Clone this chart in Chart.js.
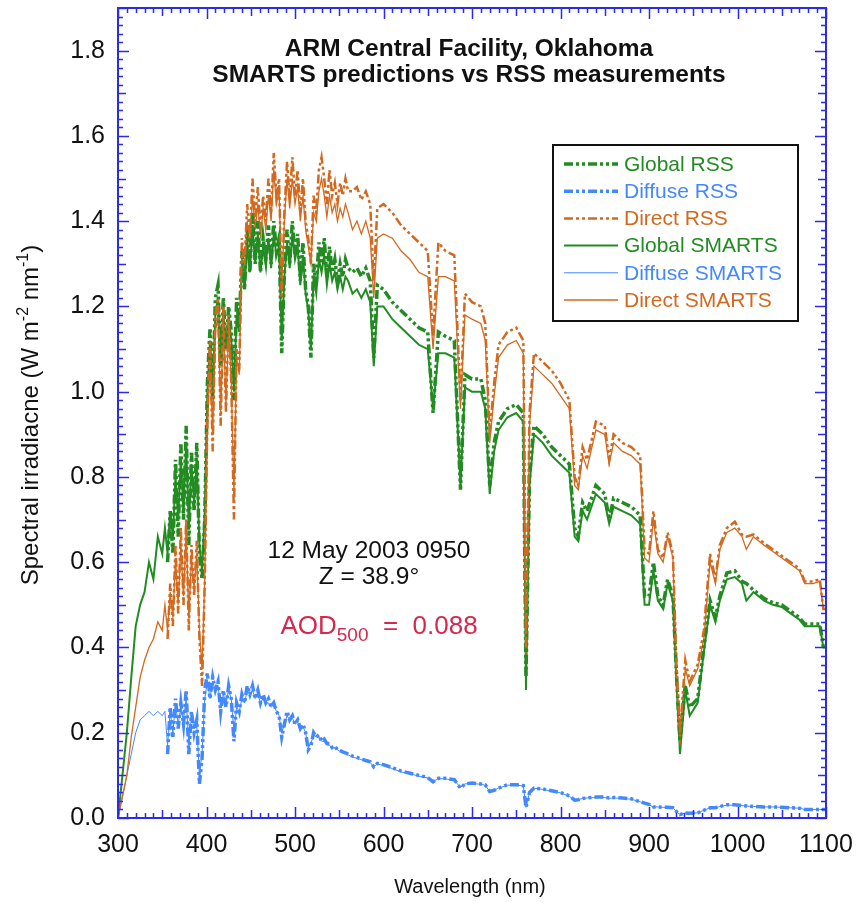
<!DOCTYPE html>
<html>
<head>
<meta charset="UTF-8">
<title>SMARTS predictions vs RSS measurements</title>
<script src="https://cdn.jsdelivr.net/npm/chart.js"></script>
<style>
  html, body { margin: 0; padding: 0; background: #fff; }
</style>
</head>
<body>
<canvas id="spectra" width="858" height="909"></canvas>
<script>
// wavelength grid (nm), shared by all six curves
var wavelength = [
  300,305,310,315,320,325,330,335,340,345,350,
  353,356,359,362,365,368,371,374,377,380,
  383,386,389,392,395,398,401,404,407,410,
  413,416,419,422,425,428,431,434,437,440,
  443,446,449,452,455,458,461,464,467,470,
  473,476,479,482,485,488,491,494,497,500,
  503,506,509,512,515,518,521,524,527,530,
  533,536,539,542,545,548,551,554,557,560,
  565,570,575,580,585,589,593,600,
  610,620,630,640,650,656,662,670,680,687,692,700,
  710,715,720,725,730,740,750,758,761,765,770,780,790,800,
  810,816,820,825,830,840,850,855,860,870,880,890,
  895,900,905,910,916,921,927,931,935,941,946,955,962,969,975,980,988,997,
  1005,1010,1018,1030,1040,1050,1060,1070,1076,1085,1093,1097,1100
];

// RSS measurements start near 356 nm
var globalRSS = [
  null,null,null,null,null,null,null,null,null,null,null,
  null,0.60,0.72,0.62,0.84,0.66,0.88,0.70,0.92,0.64,
  0.86,0.72,0.88,0.62,0.56,0.70,1.02,1.15,0.98,1.22,
  1.25,1.06,1.22,1.10,1.20,1.14,0.98,1.22,1.15,1.33,
  1.24,1.38,1.28,1.42,1.30,1.40,1.28,1.36,1.31,1.39,
  1.30,1.40,1.33,1.36,1.09,1.28,1.38,1.30,1.40,1.32,
  1.37,1.26,1.35,1.24,1.20,1.08,1.30,1.25,1.35,1.30,
  1.36,1.27,1.34,1.28,1.31,1.26,1.30,1.27,1.31,1.29,
  1.28,1.29,1.27,1.29,1.26,1.08,1.25,1.24,
  1.21,1.19,1.17,1.15,1.14,0.95,1.14,1.13,1.12,0.77,1.04,1.03,
  1.03,0.98,0.78,0.88,0.93,0.96,0.97,0.95,0.33,0.80,0.92,0.90,0.87,0.85,
  0.83,0.68,0.66,0.74,0.72,0.78,0.76,0.70,0.75,0.74,0.73,0.71,
  0.52,0.52,0.60,0.52,0.50,0.56,0.52,0.34,0.18,0.31,0.26,0.28,0.40,0.51,0.47,0.52,0.575,0.58,
  0.555,0.55,0.535,0.515,0.505,0.50,0.485,0.47,0.455,0.455,0.455,0.40,0.40
];
var diffuseRSS = [
  null,null,null,null,null,null,null,null,null,null,null,
  null,0.15,0.26,0.19,0.28,0.21,0.27,0.22,0.30,0.15,
  0.25,0.20,0.23,0.08,0.14,0.30,0.34,0.28,0.33,0.30,
  0.32,0.25,0.30,0.26,0.31,0.28,0.18,0.27,0.25,0.29,
  0.27,0.31,0.29,0.31,0.28,0.30,0.27,0.29,0.27,0.28,
  0.26,0.27,0.25,0.24,0.19,0.22,0.25,0.23,0.24,0.22,
  0.23,0.21,0.22,0.20,0.16,0.17,0.20,0.19,0.195,0.18,
  0.185,0.175,0.175,0.165,0.168,0.16,0.158,0.155,0.153,0.15,
  0.145,0.142,0.138,0.135,0.132,0.12,0.128,0.125,
  0.118,0.11,0.105,0.10,0.095,0.085,0.093,0.093,0.09,0.07,0.08,0.082,
  0.08,0.078,0.062,0.065,0.07,0.078,0.078,0.076,0.025,0.06,0.07,0.068,0.064,0.06,
  0.052,0.042,0.043,0.046,0.047,0.049,0.049,0.047,0.048,0.047,0.045,0.038,
  0.035,0.032,0.026,0.026,0.025,0.025,0.024,0.015,0.008,0.012,0.011,0.012,0.018,0.024,0.024,0.027,0.031,0.031,
  0.029,0.028,0.027,0.026,0.026,0.025,0.024,0.023,0.02,0.02,0.02,0.02,0.02
];
var directRSS = [
  null,null,null,null,null,null,null,null,null,null,null,
  null,0.42,0.55,0.45,0.64,0.48,0.68,0.50,0.70,0.44,
  0.64,0.52,0.65,0.42,0.31,0.55,0.94,1.12,0.86,1.18,
  1.22,0.92,1.20,0.95,1.18,1.02,0.70,1.10,1.05,1.36,
  1.30,1.44,1.36,1.50,1.40,1.48,1.38,1.46,1.40,1.50,
  1.42,1.56,1.46,1.50,1.22,1.42,1.54,1.45,1.55,1.46,
  1.52,1.42,1.50,1.40,1.36,1.30,1.46,1.42,1.52,1.55,
  1.50,1.44,1.52,1.46,1.49,1.44,1.49,1.46,1.50,1.47,
  1.47,1.48,1.45,1.47,1.44,1.26,1.43,1.44,
  1.42,1.39,1.37,1.35,1.33,1.13,1.35,1.33,1.32,0.98,1.23,1.21,
  1.20,1.16,0.90,1.02,1.11,1.14,1.15,1.12,0.40,0.95,1.09,1.07,1.05,1.02,
  0.98,0.80,0.78,0.87,0.84,0.93,0.92,0.84,0.90,0.88,0.87,0.85,
  0.63,0.62,0.72,0.63,0.61,0.67,0.62,0.36,0.20,0.37,0.32,0.36,0.44,0.62,0.56,0.64,0.68,0.695,
  0.665,0.66,0.665,0.645,0.63,0.615,0.60,0.585,0.555,0.555,0.56,0.49,0.49
];

// SMARTS model, full range
var globalSMARTS = [
  0.00,0.10,0.20,0.33,0.45,0.50,0.53,0.60,0.56,0.66,0.62,
  0.68,0.62,0.72,0.66,0.80,0.70,0.84,0.72,0.88,0.68,
  0.83,0.74,0.84,0.64,0.58,0.72,1.00,1.12,1.00,1.18,
  1.22,1.08,1.19,1.10,1.18,1.12,1.00,1.18,1.14,1.30,
  1.24,1.35,1.28,1.39,1.30,1.37,1.28,1.34,1.30,1.36,
  1.29,1.37,1.32,1.34,1.12,1.27,1.35,1.29,1.37,1.31,
  1.34,1.25,1.32,1.23,1.19,1.10,1.27,1.23,1.31,1.28,
  1.32,1.25,1.30,1.26,1.28,1.24,1.27,1.24,1.27,1.26,
  1.23,1.24,1.22,1.24,1.21,1.06,1.20,1.20,
  1.17,1.15,1.13,1.11,1.10,0.96,1.09,1.09,1.08,0.78,1.01,1.00,
  1.00,0.96,0.76,0.86,0.91,0.94,0.95,0.93,0.30,0.78,0.90,0.88,0.85,0.83,
  0.81,0.66,0.65,0.72,0.70,0.76,0.74,0.69,0.73,0.72,0.71,0.69,
  0.50,0.50,0.58,0.51,0.49,0.55,0.51,0.32,0.15,0.30,0.24,0.27,0.39,0.50,0.46,0.51,0.56,0.565,
  0.55,0.51,0.53,0.51,0.50,0.495,0.48,0.465,0.45,0.45,0.45,0.40,0.40
];
var diffuseSMARTS = [
  0.00,0.05,0.10,0.15,0.20,0.23,0.24,0.25,0.24,0.25,0.24,
  0.25,0.17,0.25,0.20,0.27,0.22,0.26,0.23,0.28,0.17,
  0.24,0.21,0.22,0.10,0.15,0.28,0.32,0.28,0.32,0.30,
  0.31,0.26,0.29,0.27,0.30,0.28,0.20,0.26,0.25,0.28,
  0.27,0.30,0.29,0.30,0.28,0.29,0.27,0.28,0.27,0.27,
  0.26,0.265,0.25,0.24,0.20,0.22,0.24,0.23,0.235,0.22,
  0.225,0.21,0.215,0.20,0.165,0.175,0.195,0.19,0.19,0.18,
  0.18,0.172,0.17,0.165,0.165,0.16,0.156,0.153,0.151,0.148,
  0.143,0.14,0.137,0.133,0.13,0.12,0.127,0.123,
  0.116,0.108,0.104,0.098,0.094,0.086,0.092,0.092,0.088,0.072,0.08,0.081,
  0.079,0.077,0.062,0.065,0.07,0.077,0.077,0.075,0.025,0.06,0.07,0.067,0.063,0.059,
  0.051,0.042,0.043,0.046,0.047,0.048,0.048,0.046,0.047,0.046,0.044,0.038,
  0.034,0.031,0.026,0.026,0.025,0.025,0.024,0.015,0.008,0.012,0.011,0.012,0.018,0.024,0.024,0.027,0.03,0.03,
  0.029,0.028,0.027,0.026,0.026,0.025,0.024,0.023,0.02,0.02,0.02,0.02,0.02
];
var directSMARTS = [
  0.00,0.05,0.10,0.19,0.26,0.33,0.37,0.40,0.42,0.46,0.44,
  0.50,0.44,0.53,0.47,0.61,0.50,0.64,0.52,0.67,0.47,
  0.61,0.54,0.62,0.44,0.35,0.56,0.90,1.08,0.90,1.14,
  1.18,0.95,1.16,0.97,1.15,1.02,0.76,1.08,1.04,1.32,
  1.28,1.40,1.34,1.46,1.38,1.44,1.36,1.43,1.38,1.46,
  1.40,1.52,1.44,1.47,1.25,1.40,1.50,1.43,1.50,1.44,
  1.48,1.40,1.46,1.38,1.34,1.30,1.42,1.40,1.47,1.50,
  1.46,1.41,1.46,1.42,1.44,1.40,1.43,1.41,1.44,1.42,
  1.38,1.40,1.37,1.40,1.36,1.22,1.36,1.37,
  1.36,1.33,1.31,1.28,1.27,1.10,1.27,1.27,1.26,0.96,1.18,1.17,
  1.16,1.12,0.88,0.99,1.08,1.11,1.12,1.09,0.36,0.92,1.06,1.04,1.02,0.99,
  0.96,0.78,0.77,0.85,0.82,0.91,0.90,0.83,0.88,0.86,0.85,0.83,
  0.61,0.60,0.70,0.62,0.60,0.66,0.61,0.34,0.17,0.35,0.31,0.35,0.42,0.60,0.55,0.63,0.67,0.68,
  0.66,0.63,0.66,0.64,0.625,0.61,0.595,0.58,0.55,0.55,0.555,0.49,0.49
];

var xTicks = [300, 400, 500, 600, 700, 800, 900, 1000, 1100];
var yTicks = [0, 0.2, 0.4, 0.6, 0.8, 1.0, 1.2, 1.4, 1.6, 1.8];

var FONT = '"Liberation Sans", Arial, Helvetica, sans-serif';
var GREEN = '#228b22', BLUE = '#4488ff', ORANGE = '#d2691e';
var FRAME = '#2b2be8';
var RSS_DASH = [9, 3, 3, 3, 3, 3];

function toPoints(vals) {
  var out = [];
  for (var i = 0; i < wavelength.length; i++) {
    if (vals[i] !== null) out.push({ x: wavelength[i], y: vals[i] });
  }
  return out;
}

var series = [
  { label: 'Global RSS', data: globalRSS, color: GREEN, width: 3.5, dash: RSS_DASH, order: 3 },
  { label: 'Diffuse RSS', data: diffuseRSS, color: BLUE, width: 3.5, dash: RSS_DASH, order: 2 },
  { label: 'Direct RSS', data: directRSS, color: ORANGE, width: 2.5, dash: RSS_DASH, order: 1 },
  { label: 'Global SMARTS', data: globalSMARTS, color: GREEN, width: 2, dash: [], order: 6 },
  { label: 'Diffuse SMARTS', data: diffuseSMARTS, color: BLUE, width: 1, dash: [], order: 5 },
  { label: 'Direct SMARTS', data: directSMARTS, color: ORANGE, width: 1.3, dash: [], order: 4 }
];

// draw a run of text pieces: [text, size, dy, weight]
function drawRich(ctx, parts, x, y, centered) {
  var total = 0;
  parts.forEach(function (p) { ctx.font = (p[3] || '') + p[1] + 'px ' + FONT; total += ctx.measureText(p[0]).width; });
  var cx = centered ? x - total / 2 : x;
  parts.forEach(function (p) {
    ctx.font = (p[3] || '') + p[1] + 'px ' + FONT;
    ctx.fillText(p[0], cx, y + p[2]);
    cx += ctx.measureText(p[0]).width;
  });
}

var decor = {
  id: 'decor',
  afterDraw: function (chart) {
    var ctx = chart.ctx, a = chart.chartArea, xs = chart.scales.x, ys = chart.scales.y;
    ctx.save();
    // inward ticks on all four sides
    ctx.strokeStyle = FRAME;
    ctx.lineWidth = 1.5;
    ctx.beginPath();
    for (var w = 300; w <= 1100; w += 10) {
      var len = w % 100 === 0 ? 11 : (w % 50 === 0 ? 8 : 5);
      var px = Math.round(xs.getPixelForValue(w)) + 0.5;
      ctx.moveTo(px, a.bottom); ctx.lineTo(px, a.bottom - len);
      ctx.moveTo(px, a.top); ctx.lineTo(px, a.top + len);
    }
    for (var k = 0; k <= 95; k++) {
      var l2 = k % 10 === 0 ? 11 : (k % 5 === 0 ? 8 : 5);
      var py = Math.round(ys.getPixelForValue(k * 0.02)) + 0.5;
      ctx.moveTo(a.left, py); ctx.lineTo(a.left + l2, py);
      ctx.moveTo(a.right, py); ctx.lineTo(a.right - l2, py);
    }
    ctx.stroke();
    ctx.lineWidth = 2;
    ctx.strokeRect(a.left, a.top, a.right - a.left, a.bottom - a.top);

    // titles
    ctx.fillStyle = '#111';
    ctx.textAlign = 'left';
    ctx.textBaseline = 'alphabetic';
    drawRich(ctx, [['ARM Central Facility, Oklahoma', 24.5, 0, 'bold ']], 469, 56, true);
    drawRich(ctx, [['SMARTS predictions vs RSS measurements', 24.5, 0, 'bold ']], 469, 82, true);

    // annotations
    drawRich(ctx, [['12 May 2003 0950', 24.5, 0]], 369, 558, true);
    drawRich(ctx, [['Z = 38.9\u00b0', 24.5, 0]], 369, 584, true);
    ctx.fillStyle = '#d4284e';
    drawRich(ctx, [['AOD', 26, 0], ['500', 19, 7], ['  =  0.088', 26, 0]], 379, 634, true);

    // axis titles
    ctx.fillStyle = '#111';
    drawRich(ctx, [['Wavelength (nm)', 20, 0]], 470, 893, true);
    ctx.save();
    ctx.translate(38, 415);
    ctx.rotate(-Math.PI / 2);
    drawRich(ctx, [['Spectral irradiacne (W m', 24, 0], ['-2', 16, -10], [' nm', 24, 0], ['-1', 16, -10], [')', 24, 0]], 0, 0, true);
    ctx.restore();

    // legend box
    var bx = 553, by = 145, bw = 245, bh = 176;
    ctx.fillStyle = '#fff';
    ctx.fillRect(bx, by, bw, bh);
    ctx.strokeStyle = '#111';
    ctx.lineWidth = 2;
    ctx.strokeRect(bx, by, bw, bh);
    series.forEach(function (s, i) {
      var yy = 164 + i * 27.2;
      ctx.strokeStyle = s.color;
      ctx.lineWidth = s.width;
      ctx.setLineDash(s.dash);
      ctx.beginPath();
      ctx.moveTo(564, yy); ctx.lineTo(618, yy);
      ctx.stroke();
      ctx.setLineDash([]);
      ctx.fillStyle = s.color;
      ctx.textBaseline = 'middle';
      ctx.font = '21px ' + FONT;
      ctx.fillText(s.label, 624, yy + 1);
    });
    ctx.restore();
  }
};

var ctx = document.getElementById('spectra').getContext('2d');
var chart = new Chart(ctx, {
  type: 'line',
  data: {
    datasets: series.map(function (s) {
      return {
        label: s.label,
        data: toPoints(s.data),
        borderColor: s.color,
        borderWidth: s.width,
        borderDash: s.dash,
        order: s.order,
        fill: false,
        pointRadius: 0,
        tension: 0
      };
    })
  },
  options: {
    responsive: false,
    animation: false,
    layout: { padding: { top: 8, right: 32, left: 0, bottom: 0 } },
    plugins: { legend: { display: false }, tooltip: { enabled: false } },
    scales: {
      x: {
        type: 'linear', min: 300, max: 1100,
        grid: { display: false, drawTicks: false },
        border: { display: false },
        afterFit: function (s) { s.height = 91; s.paddingLeft = 0; s.paddingRight = 0; },
        afterBuildTicks: function (s) { s.ticks = xTicks.map(function (v) { return { value: v }; }); },
        ticks: { font: { family: FONT, size: 25 }, color: '#111', padding: 12, maxRotation: 0, autoSkip: false,
                 callback: function (v) { return String(v); } }
      },
      y: {
        type: 'linear', min: 0, max: 1.9,
        grid: { display: false, drawTicks: false },
        border: { display: false },
        afterFit: function (s) { s.width = 118; s.paddingTop = 0; s.paddingBottom = 0; },
        afterBuildTicks: function (s) { s.ticks = yTicks.map(function (v) { return { value: v }; }); },
        ticks: { font: { family: FONT, size: 25 }, color: '#111', padding: 13, autoSkip: false,
                 callback: function (v) { return v.toFixed(1); } }
      }
    }
  },
  plugins: [decor]
});
</script>
</body>
</html>
